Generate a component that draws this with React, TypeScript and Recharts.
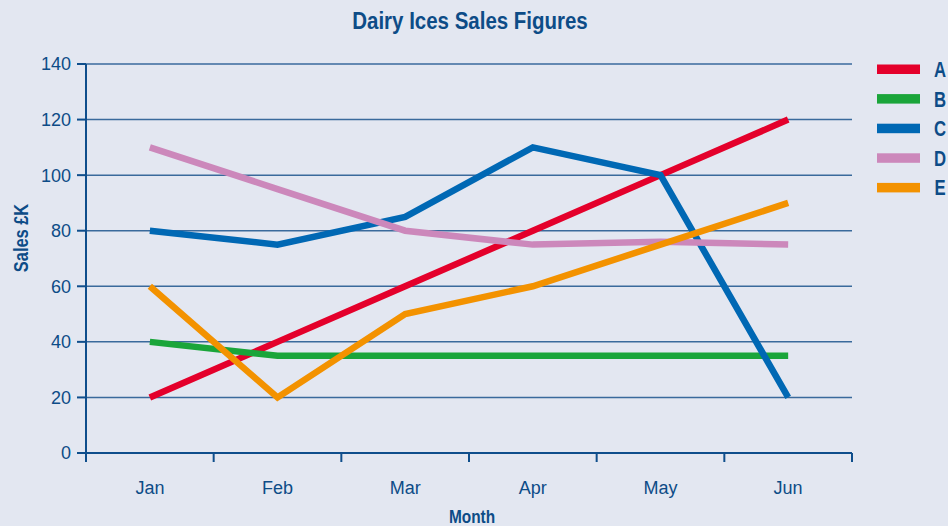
import React from "react";
import { LineChart, Line, XAxis, YAxis, CartesianGrid } from "recharts";

const months = ["Jan", "Feb", "Mar", "Apr", "May", "Jun"];
const seriesA = [20, 40, 60, 80, 100, 120];
const seriesB = [40, 35, 35, 35, 35, 35];
const seriesC = [80, 75, 85, 110, 100, 20];
const seriesD = [110, 95, 80, 75, 76, 75];
const seriesE = [60, 20, 50, 60, 75, 90];
const yTicks = [0, 20, 40, 60, 80, 100, 120, 140];
const bandEdges = [0, 1, 2, 3, 4, 5, 6];

const series = [
  { key: "A", values: seriesA, color: "#e4002b" },
  { key: "B", values: seriesB, color: "#1aa53a" },
  { key: "C", values: seriesC, color: "#0068b4" },
  { key: "D", values: seriesD, color: "#cc88bb" },
  { key: "E", values: seriesE, color: "#f39200" },
];

// pos = centre of each month's band on a 0..6 scale
const data = months.map((m, i) => {
  const row: Record<string, string | number> = { month: m, pos: i + 0.5 };
  series.forEach((s) => (row[s.key] = s.values[i]));
  return row;
});

const navy = "#0d4c87";
const axisColor = "#0f4e8c";
const font = "'Liberation Sans', Arial, sans-serif";

// bold text squeezed horizontally to mimic the condensed face
const CondText = ({ x, y, size, sx, rotate = 0, children }: any) => (
  <text
    transform={`translate(${x},${y}) rotate(${rotate}) scale(${sx},1)`}
    textAnchor="middle"
    fill={navy}
    fontFamily={font}
    fontWeight={700}
    fontSize={size}
  >
    {children}
  </text>
);

const NoLabel = () => <g />;

export default function App() {
  return (
    <div
      style={{
        position: "absolute",
        left: 0,
        top: 0,
        width: 948,
        height: 526,
        background: "#e3e7f1",
      }}
    >
      <LineChart
        width={948}
        height={526}
        data={data}
        margin={{ top: 64, right: 96, bottom: 0, left: 0 }}
      >
        <CartesianGrid
          xAxisId="month"
          vertical={false}
          stroke="#3a6a9c"
          strokeWidth={1.5}
        />
        {/* band edges: axis line + tick marks between months */}
        <XAxis
          type="number"
          dataKey="pos"
          domain={[0, 6]}
          ticks={bandEdges}
          allowDataOverflow
          height={1}
          tick={<NoLabel />}
          tickSize={9}
          stroke={axisColor}
          strokeWidth={2}
        />
        <XAxis
          xAxisId="month"
          dataKey="month"
          height={72}
          padding={{ left: 64, right: 64 }}
          axisLine={false}
          tickLine={false}
          tickSize={0}
          tickMargin={27}
          tick={{ fill: navy, fontSize: 18, fontFamily: font }}
        />
        <YAxis
          width={86}
          domain={[0, 140]}
          ticks={yTicks}
          stroke={axisColor}
          strokeWidth={2}
          tickSize={9}
          tickMargin={6}
          tick={{ fill: navy, fontSize: 18, fontFamily: font }}
        />
        <YAxis
          yAxisId="right"
          orientation="right"
          width={0}
          domain={[0, 140]}
          tick={false}
          tickLine={false}
          stroke={axisColor}
          strokeWidth={2}
        />
        {series.map((s) => (
          <Line
            key={s.key}
            dataKey={s.key}
            name={s.key}
            stroke={s.color}
            strokeWidth={6.5}
            dot={false}
            activeDot={false}
            isAnimationActive={false}
          />
        ))}
      </LineChart>

      <svg
        width={948}
        height={526}
        style={{ position: "absolute", left: 0, top: 0, pointerEvents: "none" }}
      >
        <CondText x={470} y={29} size={23} sx={0.89}>
          Dairy Ices Sales Figures
        </CondText>
        <CondText x={472} y={523} size={19} sx={0.81}>
          Month
        </CondText>
        <CondText x={28} y={238} size={20.5} sx={0.8} rotate={-90}>
          Sales £K
        </CondText>
        {series.map((s, i) => (
          <g key={s.key}>
            <rect x={877} y={64.5 + i * 29.6} width={43} height={9.5} fill={s.color} />
            <CondText x={940} y={77 + i * 29.6} size={22} sx={0.76}>
              {s.key}
            </CondText>
          </g>
        ))}
      </svg>
    </div>
  );
}
